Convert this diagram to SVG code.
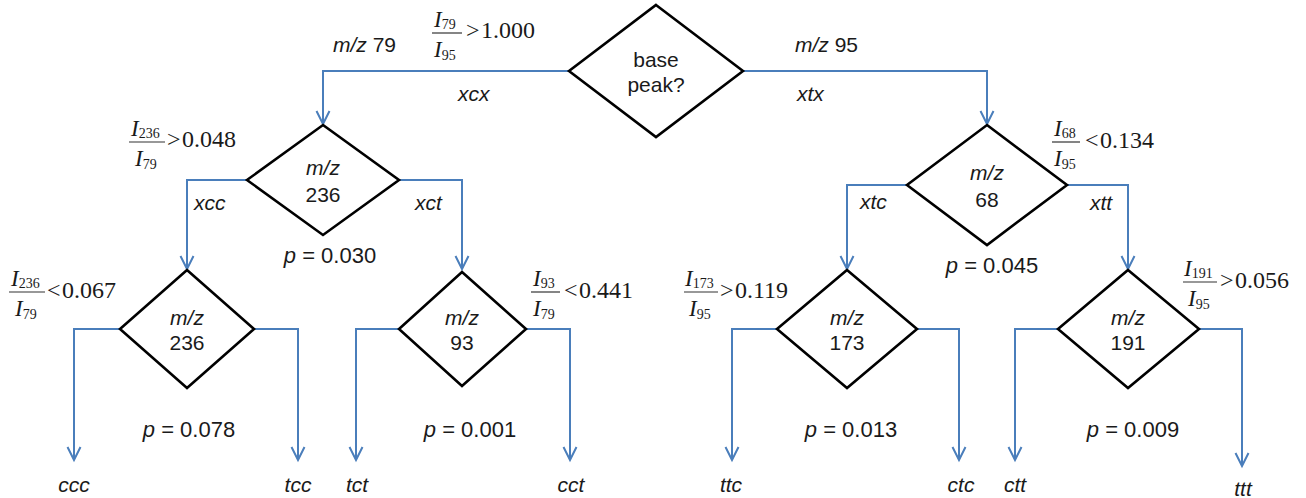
<svg xmlns="http://www.w3.org/2000/svg" width="1306" height="498" viewBox="0 0 1306 498">
<defs>
<style>
.bg{fill:#fff}
.d{fill:#fff;stroke:#000;stroke-width:2.6;stroke-linejoin:miter}
.c{fill:none;stroke:#4a7ebb;stroke-width:2}
.s{font-family:"Liberation Sans",Arial,sans-serif;font-size:21px;fill:#1a1a1a}
.p{font-family:"Liberation Sans",Arial,sans-serif;font-size:22px;fill:#1a1a1a}
.i{font-style:italic}
.m{text-anchor:middle}
.t{font-family:"Liberation Serif","Times New Roman",serif;font-size:23px;fill:#1a1a1a}
.r{font-family:"Liberation Serif","Times New Roman",serif;font-size:24px;fill:#1a1a1a}
.sub{font-size:14px;font-style:normal}
.fl{stroke:#333;stroke-width:1.2}
</style>
<marker id="ah" viewBox="-14 -8 16 16" markerWidth="16" markerHeight="16" refX="0" refY="0" orient="auto" markerUnits="userSpaceOnUse" overflow="visible">
<path d="M-13,-6.5 L0,0 L-13,6.5" fill="none" stroke="#4a7ebb" stroke-width="2"/>
</marker>
</defs>
<rect class="bg" x="0" y="0" width="1306" height="498"/>

<g id="connectors">
<path class="c" d="M569,71 H323 V124" marker-end="url(#ah)"/>
<path class="c" d="M743,71 H987 V124" marker-end="url(#ah)"/>
<path class="c" d="M248,180 H187 V269" marker-end="url(#ah)"/>
<path class="c" d="M398,180 H462 V269" marker-end="url(#ah)"/>
<path class="c" d="M907,185 H847 V269" marker-end="url(#ah)"/>
<path class="c" d="M1067,185 H1128 V269" marker-end="url(#ah)"/>
<path class="c" d="M120,329 H74 V460" marker-end="url(#ah)"/>
<path class="c" d="M254,329 H298 V460" marker-end="url(#ah)"/>
<path class="c" d="M399,329 H356 V460" marker-end="url(#ah)"/>
<path class="c" d="M526,329 H570 V460" marker-end="url(#ah)"/>
<path class="c" d="M777,329 H732 V460" marker-end="url(#ah)"/>
<path class="c" d="M917,329 H959 V460" marker-end="url(#ah)"/>
<path class="c" d="M1058,329 H1015 V460" marker-end="url(#ah)"/>
<path class="c" d="M1199,329 H1242 V466" marker-end="url(#ah)"/>
</g>

<g id="edge-labels">
<text class="s" x="333" y="52"><tspan class="i">m/z</tspan> 79</text>
<text class="s" x="795" y="52"><tspan class="i">m/z</tspan> 95</text>
<text class="s i" x="458" y="101">xcx</text>
<text class="s i" x="797" y="101">xtx</text>
<text class="s i" x="194" y="210">xcc</text>
<text class="s i" x="415" y="210">xct</text>
<text class="s i" x="860" y="209">xtc</text>
<text class="s i" x="1090" y="210">xtt</text>
</g>

<g id="n-root">
<polygon class="d" points="656,5 743,71 656,137 569,71"/>
<text class="s m" x="656" y="67">base</text>
<text class="s m" x="656" y="92">peak?</text>
<g transform="translate(432,33)">
<line class="fl" x1="0" y1="0" x2="30" y2="0"/>
<text class="t i" x="2" y="-6">I<tspan class="sub" dy="2">79</tspan></text>
<text class="t i" x="2" y="24">I<tspan class="sub" dy="3">95</tspan></text>
<text class="r" x="34" y="5">&gt;</text><text class="r" x="49" y="5">1.000</text>
</g>
</g>

<g id="n-236a">
<polygon class="d" points="323,125 399,180 323,235 247,180"/>
<text class="s m i" x="323" y="175">m/z</text>
<text class="s m" x="323" y="202">236</text>
<text class="p m" x="330" y="263"><tspan class="i">p</tspan> = 0.030</text>
<g transform="translate(129,142)">
<line class="fl" x1="0" y1="0" x2="36" y2="0"/>
<text class="t i" x="2" y="-6">I<tspan class="sub" dy="2">236</tspan></text>
<text class="t i" x="6" y="24">I<tspan class="sub" dy="3">79</tspan></text>
<text class="r" x="38" y="5">&gt;</text><text class="r" x="53" y="5">0.048</text>
</g>
</g>

<g id="n-236b">
<polygon class="d" points="187,270 254,329 187,388 120,329"/>
<text class="s m i" x="187" y="325">m/z</text>
<text class="s m" x="187" y="350">236</text>
<text class="p m" x="189" y="437"><tspan class="i">p</tspan> = 0.078</text>
<g transform="translate(9,292)">
<line class="fl" x1="0" y1="0" x2="36" y2="0"/>
<text class="t i" x="2" y="-6">I<tspan class="sub" dy="2">236</tspan></text>
<text class="t i" x="6" y="24">I<tspan class="sub" dy="3">79</tspan></text>
<text class="r" x="38" y="6">&lt;</text><text class="r" x="53" y="6">0.067</text>
</g>
</g>

<g id="n-93">
<polygon class="d" points="462,272 526,329 462,386 399,329"/>
<text class="s m i" x="462" y="325">m/z</text>
<text class="s m" x="462" y="350">93</text>
<text class="p m" x="470" y="437"><tspan class="i">p</tspan> = 0.001</text>
<g transform="translate(531,292)">
<line class="fl" x1="0" y1="0" x2="29" y2="0"/>
<text class="t i" x="2" y="-6">I<tspan class="sub" dy="2">93</tspan></text>
<text class="t i" x="2" y="24">I<tspan class="sub" dy="3">79</tspan></text>
<text class="r" x="33" y="6">&lt;</text><text class="r" x="48" y="6">0.441</text>
</g>
</g>

<g id="n-68">
<polygon class="d" points="987,125 1067,185 987,245 907,185"/>
<text class="s m i" x="987" y="180">m/z</text>
<text class="s m" x="987" y="207">68</text>
<text class="p m" x="992" y="273"><tspan class="i">p</tspan> = 0.045</text>
<g transform="translate(1052,142)">
<line class="fl" x1="0" y1="0" x2="28" y2="0"/>
<text class="t i" x="2" y="-6">I<tspan class="sub" dy="2">68</tspan></text>
<text class="t i" x="2" y="24">I<tspan class="sub" dy="3">95</tspan></text>
<text class="r" x="33" y="6">&lt;</text><text class="r" x="48" y="6">0.134</text>
</g>
</g>

<g id="n-173">
<polygon class="d" points="847,270 917,329 847,388 777,329"/>
<text class="s m i" x="847" y="325">m/z</text>
<text class="s m" x="847" y="350">173</text>
<text class="p m" x="851" y="437"><tspan class="i">p</tspan> = 0.013</text>
<g transform="translate(684,292)">
<line class="fl" x1="0" y1="0" x2="34" y2="0"/>
<text class="t i" x="1" y="-6">I<tspan class="sub" dy="2">173</tspan></text>
<text class="t i" x="5" y="24">I<tspan class="sub" dy="3">95</tspan></text>
<text class="r" x="36" y="6">&gt;</text><text class="r" x="51" y="6">0.119</text>
</g>
</g>

<g id="n-191">
<polygon class="d" points="1128,270 1199,329 1128,388 1058,329"/>
<text class="s m i" x="1128" y="325">m/z</text>
<text class="s m" x="1128" y="350">191</text>
<text class="p m" x="1133" y="437"><tspan class="i">p</tspan> = 0.009</text>
<g transform="translate(1183,282)">
<line class="fl" x1="0" y1="0" x2="34" y2="0"/>
<text class="t i" x="1" y="-6">I<tspan class="sub" dy="2">191</tspan></text>
<text class="t i" x="5" y="24">I<tspan class="sub" dy="3">95</tspan></text>
<text class="r" x="37" y="6">&gt;</text><text class="r" x="52" y="6">0.056</text>
</g>
</g>

<g id="leaves">
<text class="s m i" x="74" y="492">ccc</text>
<text class="s m i" x="298" y="492">tcc</text>
<text class="s m i" x="357" y="492">tct</text>
<text class="s m i" x="571" y="492">cct</text>
<text class="s m i" x="731" y="492">ttc</text>
<text class="s m i" x="961" y="492">ctc</text>
<text class="s m i" x="1015" y="492">ctt</text>
<text class="s m i" x="1243" y="496">ttt</text>
</g>
</svg>
